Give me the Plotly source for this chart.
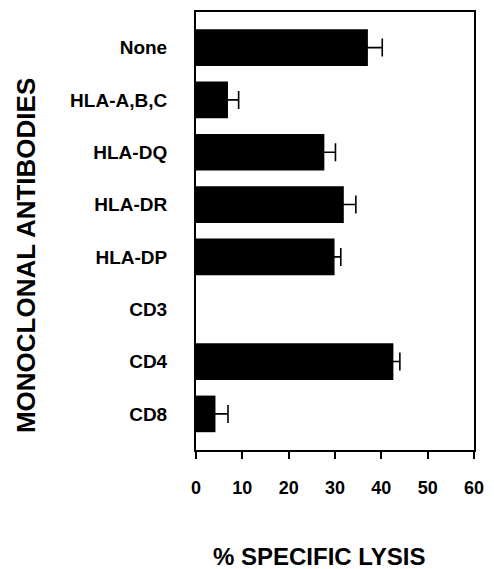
import plotly.graph_objects as go

categories = ["None", "HLA-A,B,C", "HLA-DQ", "HLA-DR", "HLA-DP", "CD3", "CD4", "CD8"]
lysis = [37.1, 6.9, 27.7, 31.9, 29.9, 0, 42.6, 4.2]
errors = [3.1, 2.3, 2.4, 2.6, 1.35, 0, 1.4, 2.7]
x_ticks = [0, 10, 20, 30, 40, 50, 60]

FONT = "Liberation Sans, Arial, Helvetica, sans-serif"

# zero-valued bars (and their zero errors) draw nothing in the reference
bar_x = [v if v else None for v in lysis]
bar_err = [e if e else None for e in errors]

fig = go.Figure()
fig.add_trace(go.Bar(
    y=categories, x=bar_x, orientation="h",
    marker=dict(color="black", line=dict(width=0)),
    width=0.70,
    error_x=dict(type="data", array=bar_err, visible=True, color="black",
                 thickness=1.6, width=9),
))

fig.update_layout(
    width=494, height=569,
    margin=dict(l=196, r=10, t=12, b=119),
    paper_bgcolor="white", plot_bgcolor="white",
    showlegend=False,
    font=dict(family=FONT, color="black"),
    xaxis=dict(range=[0, 60], tickvals=x_ticks, ticktext=[f"<b>{v}</b>" for v in x_ticks],
               showgrid=False, zeroline=False, showline=True, linecolor="black",
               linewidth=2, mirror=True, ticks="outside", ticklen=7, tickwidth=2,
               tickcolor="black", tickfont=dict(size=18, family=FONT),
               ticklabelstandoff=13),
    yaxis=dict(type="category", categoryorder="array", categoryarray=categories,
               range=[7.69, -0.68], tickvals=categories,
               ticktext=[f"<b>{c}</b>" for c in categories],
               showgrid=False, zeroline=False, showline=True, linecolor="black",
               linewidth=2, mirror=True, ticks="", tickfont=dict(size=19, family=FONT),
               ticklabelstandoff=23),
    annotations=[
        dict(text="<b>% SPECIFIC LYSIS</b>", xref="paper", yref="paper",
             x=(323.5 - 196) / 288, y=-(556 - 450) / 438, xanchor="center", yanchor="middle",
             showarrow=False, font=dict(size=24, family=FONT)),
        dict(text="<b>MONOCLONAL ANTIBODIES</b>", xref="paper", yref="paper",
             x=-(196 - 20) / 288, y=1 - (256 - 12) / 438, xanchor="center", yanchor="middle",
             textangle=-90, showarrow=False, font=dict(size=26, family=FONT)),
    ],
)

fig.write_html("out.html", config={"displayModeBar": False},
               post_script="document.body.style.margin='0px';")
